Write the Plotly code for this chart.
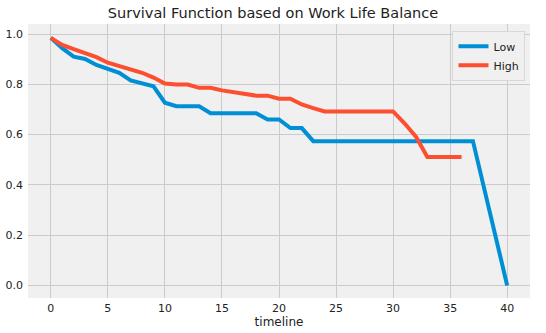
import plotly.graph_objects as go

low_t = [0, 1, 2, 3, 4, 5, 6, 7, 8, 9, 10, 11, 12, 13, 14, 15, 16, 17, 18, 19, 20, 21, 22, 23, 24, 25, 26, 27, 28, 29, 30, 31, 32, 33, 34, 35, 36, 37, 40]
low_s = [0.985, 0.944, 0.910, 0.901, 0.877, 0.861, 0.846, 0.816, 0.806, 0.792, 0.727, 0.713, 0.713, 0.713,
         0.685, 0.685, 0.685, 0.685, 0.685, 0.660, 0.660, 0.626, 0.626, 0.574, 0.574, 0.574, 0.574, 0.574,
         0.574, 0.574, 0.574, 0.574, 0.574, 0.574, 0.574, 0.574, 0.574, 0.574, 0.0]

high_t = [0, 1, 2, 3, 4, 5, 6, 7, 8, 9, 10, 11, 12, 13, 14, 15, 16, 17, 18, 19, 20, 21, 22, 23, 24, 25, 26, 27, 28, 29, 30, 31, 32, 33, 34, 35, 36]
high_s = [0.985, 0.957, 0.940, 0.924, 0.908, 0.886, 0.874, 0.861, 0.846, 0.827, 0.803, 0.799, 0.799, 0.786,
          0.786, 0.776, 0.770, 0.763, 0.755, 0.755, 0.743, 0.743, 0.720, 0.705, 0.692, 0.692, 0.692, 0.692,
          0.692, 0.692, 0.692, 0.645, 0.592, 0.511, 0.511, 0.511, 0.511]

x_ticks = [0, 5, 10, 15, 20, 25, 30, 35, 40]
y_ticks = [0.0, 0.2, 0.4, 0.6, 0.8, 1.0]

FONT = "DejaVu Sans"

fig = go.Figure()
fig.add_trace(go.Scatter(x=low_t, y=low_s, mode="lines", name="Low",
                         line=dict(color="#008fd5", width=4)))
fig.add_trace(go.Scatter(x=high_t, y=high_s, mode="lines", name="High",
                         line=dict(color="#fc4f30", width=4)))

fig.update_layout(
    width=546, height=333,
    margin=dict(l=28, r=16, t=24, b=35, autoexpand=False),
    paper_bgcolor="white",
    plot_bgcolor="#f0f0f0",
    font=dict(family=FONT, size=11, color="#222222"),
    title=dict(text="Survival Function based on Work Life Balance", x=0.5, xanchor="center",
               y=1 - 13 / 333, yref="container", yanchor="middle",
               font=dict(family=FONT, size=14.5, color="#222222")),
    legend=dict(x=0.991, xanchor="right", y=0.975, yanchor="top",
                bgcolor="#f0f0f0", bordercolor="#d8d8d8", borderwidth=1,
                itemwidth=30, tracegroupgap=0,
                font=dict(family=FONT, size=11)),
    showlegend=True,
)
fig.update_xaxes(range=[-2, 42], tickvals=x_ticks, ticktext=[str(v) for v in x_ticks],
                 showgrid=True, gridcolor="#cbcbcb", gridwidth=1, zeroline=False,
                 showline=False, ticks="", ticklabelstandoff=2, automargin=False,
                 title=dict(text="timeline", standoff=0, font=dict(family=FONT, size=12)))
fig.update_yaxes(range=[-0.05, 1.04], tickvals=y_ticks, ticktext=[f"{v:.1f}" for v in y_ticks],
                 showgrid=True, gridcolor="#cbcbcb", gridwidth=1, zeroline=False,
                 showline=False, ticks="", ticklabelstandoff=4, automargin=False)

fig.write_html("out.html")
